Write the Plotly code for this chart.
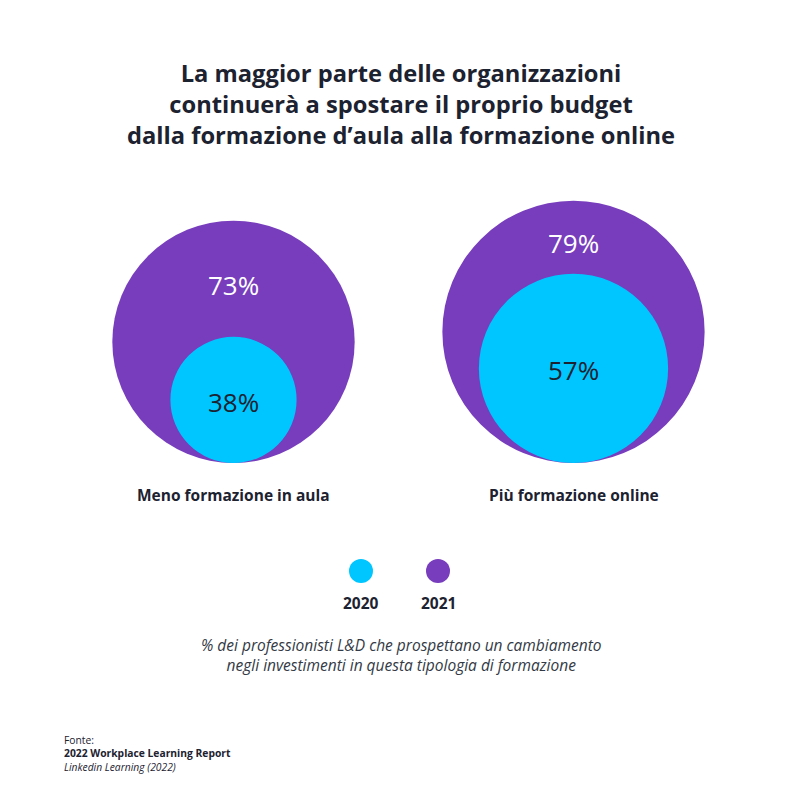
import plotly.graph_objects as go

# ---- data ----
categories = ["Meno formazione in aula", "Più formazione online"]
years = ["2020", "2021"]
values_2020 = [38, 57]
values_2021 = [73, 79]

title_lines = ["La maggior parte delle organizzazioni",
               "continuerà a spostare il proprio budget",
               "dalla formazione d’aula alla formazione online"]
note_lines = ["% dei professionisti L&D che prospettano un cambiamento",
              "negli investimenti in questa tipologia di formazione"]
source_lines = ["Fonte:", "<b>2022 Workplace Learning Report</b>", "<i>Linkedin Learning (2022)</i>"]

# ---- style ----
C2020 = "#00C6FF"
C2021 = "#773DBD"
DARK = "#1C2230"
FONT = "Open Sans"
PX_PER_PCT = 1.66
centers_x = [233.5, 573.5]
base_y = 463

fig = go.Figure()
shapes = []
annotations = []

for i, cat in enumerate(categories):
    cx = centers_x[i]
    r21 = values_2021[i] * PX_PER_PCT
    r20 = values_2020[i] * PX_PER_PCT
    shapes.append(dict(type="circle", xref="x", yref="y",
                       x0=cx - r21, x1=cx + r21, y0=base_y - 2 * r21, y1=base_y,
                       fillcolor=C2021, line=dict(width=0), layer="below"))
    shapes.append(dict(type="circle", xref="x", yref="y",
                       x0=cx - r20, x1=cx + r20, y0=base_y - 2 * r20, y1=base_y,
                       fillcolor=C2020, line=dict(width=0), layer="below"))
    top21 = base_y - 2 * r21
    top20 = base_y - 2 * r20
    annotations.append(dict(x=cx, y=(top21 + top20) / 2 + 6, text=f"{values_2021[i]}%",
                            showarrow=False, font=dict(family=FONT, size=26, color="white")))
    annotations.append(dict(x=cx, y=base_y - r20 + 2, text=f"{values_2020[i]}%",
                            showarrow=False, font=dict(family=FONT, size=26, color=DARK)))
    annotations.append(dict(x=cx, y=495, text=f"<b>{cat}</b>", showarrow=False,
                            font=dict(family=FONT, size=15.5, color=DARK)))

# title
annotations.append(dict(x=401, y=104, text="<b>" + "<br>".join(title_lines) + "</b>",
                        showarrow=False, align="center",
                        font=dict(family=FONT, size=23.7, color=DARK)))

# legend
legend_x = [361, 438]
legend_colors = [C2020, C2021]
fig.add_trace(go.Scatter(x=legend_x, y=[571, 571], mode="markers",
                         marker=dict(size=24, color=legend_colors, line=dict(width=0)),
                         hoverinfo="skip", showlegend=False))
for k, yr in enumerate(years):
    annotations.append(dict(x=legend_x[k], y=603, text=f"<b>{yr}</b>", showarrow=False,
                            font=dict(family=FONT, size=15.5, color=DARK)))

# note
annotations.append(dict(x=401, y=655, text="<i>" + "<br>".join(note_lines) + "</i>",
                        showarrow=False, align="center",
                        font=dict(family=FONT, size=15.5, color="#333A45")))

# source
annotations.append(dict(x=62, y=753.5, text="<br>".join(source_lines), showarrow=False,
                        xanchor="left", align="left",
                        font=dict(family=FONT, size=10.3, color=DARK)))

fig.update_layout(
    width=800, height=800,
    margin=dict(l=0, r=0, t=0, b=0),
    paper_bgcolor="white", plot_bgcolor="white",
    xaxis=dict(range=[0, 800], visible=False, fixedrange=True),
    yaxis=dict(range=[800, 0], visible=False, fixedrange=True),
    shapes=shapes, annotations=annotations, showlegend=False,
)

fig.write_html("out.html", config={"displayModeBar": False})
